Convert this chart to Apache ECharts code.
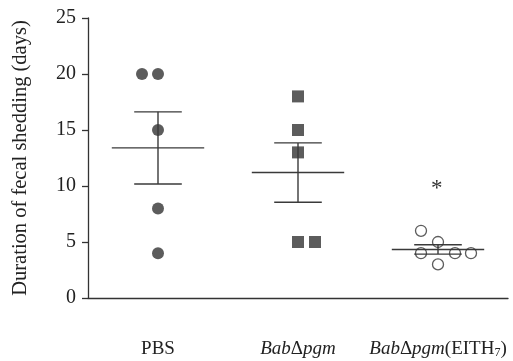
<!DOCTYPE html>
<html><head><meta charset="utf-8">
<script src="https://cdn.jsdelivr.net/npm/echarts@6/dist/echarts.min.js"></script>
<style>html,body{margin:0;padding:0;background:#fff}#c{width:513px;height:361px}</style>
</head><body><div id="c"></div>
<script>
const categories = ['PBS', 'BabΔpgm', 'BabΔpgm(EITH7)'];
const pbsValues = [20, 20, 15, 8, 4];
const babValues = [18, 15, 13, 5, 5];
const eithValues = [6, 5, 4, 4, 4, 3];
const groupMeans = [13.4, 11.2, 4.33];
const groupSemLow = [10.18, 8.55, 3.92];
const groupSemHigh = [16.62, 13.85, 4.75];
const yTicks = [0, 5, 10, 15, 20, 25];

// horizontal jitter (px) for overlapping points, layout only
const jitterPbs = [-16, 0, 0, 0, 0];
const jitterBab = [0, 0, 0, 0, 17];
const jitterEith = [-17, 0, -17, 17, 33, 0];

const FONT = '"Liberation Serif", "Times New Roman", serif';
const INK = '#333';

function pts(idx, vals, jit) {
  return vals.map((v, i) => ({ value: [idx, v], symbolOffset: [jit[i], 0] }));
}

const chart = echarts.init(document.getElementById('c'));
chart.setOption({
  animation: false,
  grid: { left: 88, right: 5, top: 18, bottom: 63 },
  xAxis: {
    type: 'category',
    data: categories,
    axisLine: { lineStyle: { color: INK, width: 1.3 } },
    axisTick: { alignWithLabel: true, length: 6, lineStyle: { color: INK, width: 1.3 } },
    axisLabel: {
      interval: 0,
      margin: 39,
      color: '#222',
      fontFamily: FONT,
      fontSize: 19,
      formatter: function (v) {
        if (v === 'PBS') return '{n|PBS}';
        if (v === 'BabΔpgm') return '{i|Bab}{n|Δ}{i|pgm}';
        return '{i|Bab}{n|Δ}{i|pgm}{n|(EITH}{s|7}{n|)}';
      },
      rich: {
        n: { fontFamily: FONT, fontSize: 19, color: '#222', lineHeight: 24, verticalAlign: 'middle' },
        i: { fontStyle: 'italic', fontFamily: FONT, fontSize: 19, color: '#222', lineHeight: 24, verticalAlign: 'middle' },
        s: { fontFamily: FONT, fontSize: 12, color: '#222', lineHeight: 24, verticalAlign: 'bottom', padding: [0, 0, 2, 0] }
      }
    }
  },
  yAxis: {
    type: 'value',
    min: 0, max: 25, interval: 5,
    name: 'Duration of fecal shedding (days)',
    nameLocation: 'middle',
    nameGap: 57,
    nameTextStyle: { fontFamily: FONT, fontSize: 20.5, color: '#222' },
    axisLine: { show: true, lineStyle: { color: INK, width: 1.3 } },
    axisTick: { show: true, length: 6, lineStyle: { color: INK, width: 1.3 } },
    splitLine: { show: false },
    axisLabel: {
      margin: 12, color: '#222', fontFamily: FONT, fontSize: 20,
      formatter: v => yTicks.includes(v) ? String(v) : ''
    }
  },
  series: [
    {
      type: 'custom',
      z: 3,
      data: groupMeans.map((m, i) => [i, m, groupSemLow[i], groupSemHigh[i]]),
      renderItem: function (params, api) {
        const x = api.coord([api.value(0), 0])[0];
        const band = api.size([1, 0])[0];
        const yM = api.coord([0, api.value(1)])[1];
        const yL = api.coord([0, api.value(2)])[1];
        const yH = api.coord([0, api.value(3)])[1];
        const mw = band * 0.33, cw = band * 0.17;
        const st = { stroke: '#3a3a3a', lineWidth: 1.4 };
        return {
          type: 'group',
          children: [
            { type: 'line', shape: { x1: x - mw, y1: yM, x2: x + mw, y2: yM }, style: st },
            { type: 'line', shape: { x1: x, y1: yL, x2: x, y2: yH }, style: st },
            { type: 'line', shape: { x1: x - cw, y1: yL, x2: x + cw, y2: yL }, style: st },
            { type: 'line', shape: { x1: x - cw, y1: yH, x2: x + cw, y2: yH }, style: st }
          ]
        };
      }
    },
    {
      type: 'scatter', symbol: 'circle', symbolSize: 12, z: 2,
      itemStyle: { color: INK },
      data: pts(0, pbsValues, jitterPbs)
    },
    {
      type: 'scatter', symbol: 'rect', symbolSize: 12, z: 2,
      itemStyle: { color: INK },
      data: pts(1, babValues, jitterBab)
    },
    {
      type: 'scatter', symbol: 'circle', symbolSize: 11, z: 4,
      itemStyle: { color: 'rgba(255,255,255,0)', borderColor: INK, borderWidth: 1.3 },
      data: pts(2, eithValues, jitterEith)
    }
  ],
  graphic: [{
    type: 'text', left: 431, top: 177,
    style: { text: '*', font: '23px ' + FONT, fill: '#333' }
  }]
});
</script></body></html>
